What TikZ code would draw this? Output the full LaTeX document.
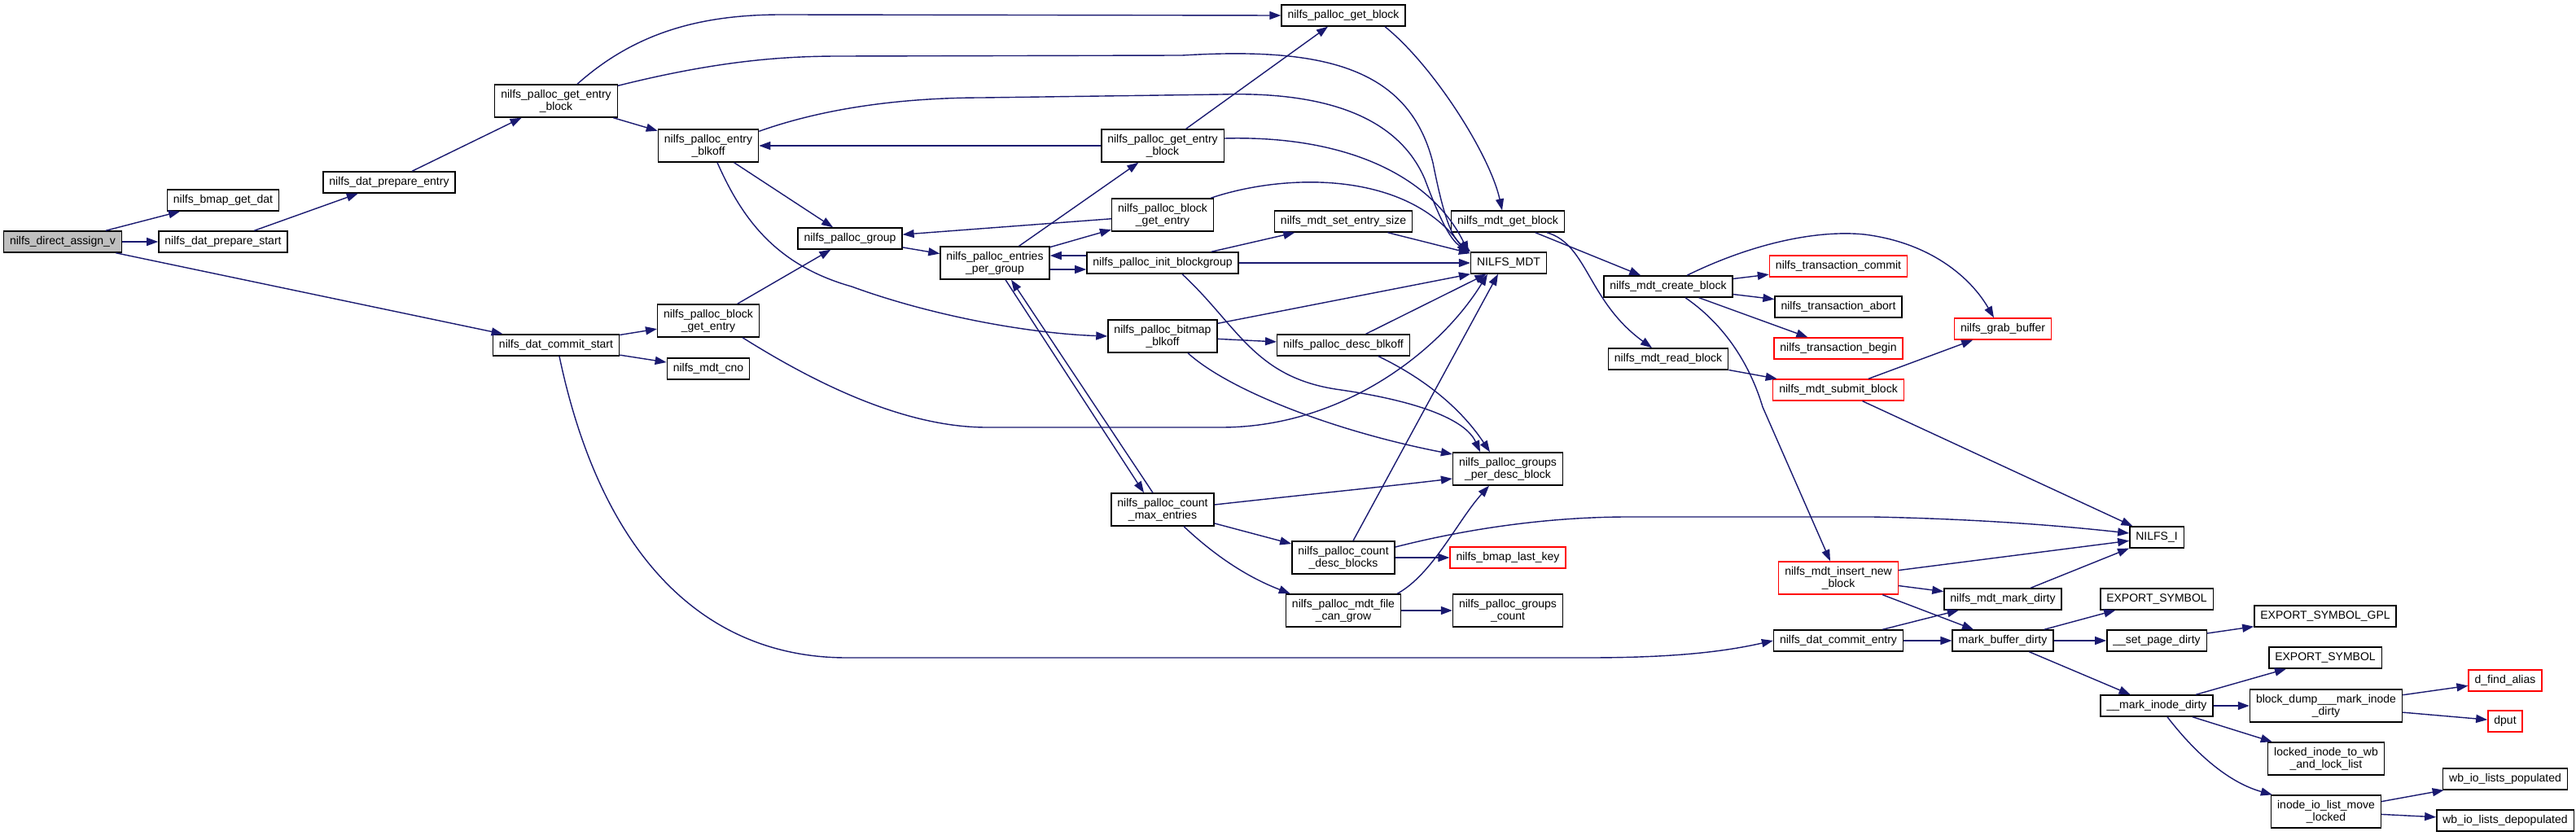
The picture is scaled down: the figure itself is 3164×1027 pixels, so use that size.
\documentclass[tikz,border=0pt]{standalone}
\usepackage{fontspec}
\setmainfont{Liberation Sans}
\usetikzlibrary{arrows.meta}
\definecolor{callblue}{HTML}{191970}
\definecolor{rootgray}{HTML}{BFBFBF}

\begin{document}
\begin{tikzpicture}[x=1pt,y=-1pt,
            fn/.style={draw=black,line width=1.4pt,fill=white,inner xsep=7.5pt,inner ysep=2pt,
              minimum height=26pt,align=center,font=\fontsize{14}{15}\selectfont},
            tall/.style={minimum height=40pt},
            hot/.style={draw=red},
            rootfn/.style={fill=rootgray},
            call/.style={draw=callblue,line width=1.4pt,-{Triangle[length=14pt,width=10pt]}}]
            \useasboundingbox (0,0) rectangle (3164,1027);
            \fill[white] (0,0) rectangle (3164,1027);

            \node[fn,rootfn] (assign) at (77,297) {nilfs\_direct\_assign\_v};
            \node[fn] (bmapdat) at (274,246) {nilfs\_bmap\_get\_dat};
            \node[fn] (prepstart) at (274,297) {nilfs\_dat\_prepare\_start};
            \node[fn] (prepentry) at (478,224) {nilfs\_dat\_prepare\_entry};
            \node[fn,tall] (getentry) at (683,124) {nilfs\_palloc\_get\_entry\\\_block};
            \node[fn] (commitstart) at (683,424) {nilfs\_dat\_commit\_start};
            \node[fn,tall] (blkoff) at (870,179) {nilfs\_palloc\_entry\\\_blkoff};
            \node[fn,tall] (blockentry) at (870,394) {nilfs\_palloc\_block\\\_get\_entry};
            \node[fn] (mdtcno) at (870,453) {nilfs\_mdt\_cno};
            \node[fn] (group) at (1044,293) {nilfs\_palloc\_group};
            \node[fn,tall] (perg) at (1222,323) {nilfs\_palloc\_entries\\\_per\_group};
            \node[fn,tall] (getentryb) at (1428,179) {nilfs\_palloc\_get\_entry\\\_block};
            \node[fn,tall] (blockentryb) at (1428,264) {nilfs\_palloc\_block\\\_get\_entry};
            \node[fn] (initbg) at (1428,323) {nilfs\_palloc\_init\_blockgroup};
            \node[fn,tall] (bitmap) at (1428,413) {nilfs\_palloc\_bitmap\\\_blkoff};
            \node[fn,tall] (countmax) at (1428,626) {nilfs\_palloc\_count\\\_max\_entries};
            \node[fn] (getblock) at (1650,19) {nilfs\_palloc\_get\_block};
            \node[fn] (setsize) at (1650,272) {nilfs\_mdt\_set\_entry\_size};
            \node[fn] (descblkoff) at (1650,424) {nilfs\_palloc\_desc\_blkoff};
            \node[fn,tall] (countdesc) at (1650,685) {nilfs\_palloc\_count\\\_desc\_blocks};
            \node[fn,tall] (cangrow) at (1650,750) {nilfs\_palloc\_mdt\_file\\\_can\_grow};
            \node[fn] (mdt) at (1853,323) {NILFS\_MDT};
            \node[fn] (mdtget) at (1852,272) {nilfs\_mdt\_get\_block};
            \node[fn,tall] (perdesc) at (1852,576) {nilfs\_palloc\_groups\\\_per\_desc\_block};
            \node[fn,hot] (lastkey) at (1852,685) {nilfs\_bmap\_last\_key};
            \node[fn,tall] (gcount) at (1852,750) {nilfs\_palloc\_groups\\\_count};
            \node[fn] (create) at (2049,352) {nilfs\_mdt\_create\_block};
            \node[fn] (readblk) at (2049,441) {nilfs\_mdt\_read\_block};
            \node[fn,hot] (tcommit) at (2258,327) {nilfs\_transaction\_commit};
            \node[fn] (tabort) at (2258,377) {nilfs\_transaction\_abort};
            \node[fn,hot] (tbegin) at (2258,428) {nilfs\_transaction\_begin};
            \node[fn,hot] (submit) at (2258,479) {nilfs\_mdt\_submit\_block};
            \node[fn,tall,hot] (insert) at (2258,710) {nilfs\_mdt\_insert\_new\\\_block};
            \node[fn] (commitentry) at (2258,787) {nilfs\_dat\_commit\_entry};
            \node[fn,hot] (grab) at (2460,404) {nilfs\_grab\_buffer};
            \node[fn] (markdirty) at (2460,736) {nilfs\_mdt\_mark\_dirty};
            \node[fn] (mbdirty) at (2460,787) {mark\_buffer\_dirty};
            \node[fn] (nilfsi) at (2649,660) {NILFS\_I};
            \node[fn] (export) at (2649,736) {EXPORT\_SYMBOL};
            \node[fn] (setpage) at (2649,787) {\_\_set\_page\_dirty};
            \node[fn] (markinode) at (2649,867) {\_\_mark\_inode\_dirty};
            \node[fn] (gpl) at (2856,757) {EXPORT\_SYMBOL\_GPL};
            \node[fn] (exportb) at (2856,808) {EXPORT\_SYMBOL};
            \node[fn,tall] (bdump) at (2857,867) {block\_dump\_\_\_mark\_inode\\\_dirty};
            \node[fn,tall] (locked) at (2857,932) {locked\_inode\_to\_wb\\\_and\_lock\_list};
            \node[fn,tall] (iolist) at (2857,997) {inode\_io\_list\_move\\\_locked};
            \node[fn,hot] (dfind) at (3077,836) {d\_find\_alias};
            \node[fn,hot] (dput) at (3077,886) {dput};
            \node[fn] (wbpop) at (3077,957) {wb\_io\_lists\_populated};
            \node[fn] (wbdepop) at (3077,1008) {wb\_io\_lists\_depopulated};

            \draw[call] (assign) -- (bmapdat);
            \draw[call] (assign) -- (prepstart);
            \draw[call] (assign) -- (commitstart);
            \draw[call] (prepstart) -- (prepentry);
            \draw[call] (prepentry) -- (getentry);
            \draw[call] ([xshift=26pt]getentry.north) .. controls (780,40) and (860,18) .. (960,18) -- (getblock.west);
            \draw[call] ([yshift=-2pt]getentry.north east) .. controls (880,75) and (960,69) .. (1031,69) -- (1452,68) .. controls (1620,58) and (1730,80) .. (1760,200) .. controls (1770,250) and (1780,290) .. ([yshift=1pt]mdt.north west);
            \draw[call] (getentry) -- (blkoff);
            \draw[call] ([yshift=-3pt]blkoff.north east) .. controls (1020,130) and (1120,120) .. (1207,120) -- (1500,116) .. controls (1640,112) and (1720,150) .. (1750,220) .. controls (1765,260) and (1780,295) .. (mdt.north west);
            \draw[call] (blkoff) -- (group);
            \draw[call] ([xshift=11pt]blkoff.south) .. controls (910,265) and (950,325) .. (1046,352) .. controls (1150,390) and (1270,410) .. (bitmap.west);
            \draw[call] (getentryb) -- (blkoff);
            \draw[call] (getentryb) -- (getblock);
            \draw[call] ([yshift=9pt]getentryb.east) .. controls (1660,166) and (1760,220) .. ([xshift=-2pt,yshift=-1pt]mdt.north west);
            \draw[call] ([xshift=-4pt]blockentryb.north east) .. controls (1580,212) and (1730,210) .. ([xshift=-4pt,yshift=-3pt]mdt.north west);
            \draw[call] (blockentryb) -- (group);
            \draw[call] (group) -- (perg);
            \draw[call] (perg) -- (getentryb);
            \draw[call] (perg) -- (blockentryb);
            \draw[call] ([yshift=9pt]initbg.west) -- ([yshift=9pt]perg.east);
            \draw[call] ([yshift=-8pt]perg.east) -- ([yshift=-8pt]initbg.west);
            \draw[call] (initbg) -- (setsize);
            \draw[call] (setsize) -- (mdt);
            \draw[call] (initbg) -- (mdt);
            \draw[call] ([xshift=24pt]initbg.south) .. controls (1520,400) and (1540,462) .. (1640,478) .. controls (1740,492) and (1800,515) .. ([xshift=-34pt]perdesc.north);
            \draw[call] ([xshift=31pt]bitmap.south) .. controls (1510,480) and (1640,530) .. ([yshift=18pt]perdesc.west);
            \draw[call] (bitmap) -- (descblkoff);
            \draw[call] ([yshift=-5pt]bitmap.north east) -- (mdt.south west);
            \draw[call] (descblkoff) -- (mdt);
            \draw[call] ([xshift=43pt]descblkoff.south) .. controls (1760,470) and (1800,510) .. ([xshift=-22pt]perdesc.north);
            \draw[call] (blockentry) -- (group);
            \draw[call] ([xshift=42pt]blockentry.south) .. controls (1000,470) and (1110,525) .. (1212,525) -- (1500,525) .. controls (1650,525) and (1770,430) .. ([xshift=-26pt]mdt.south);
            \draw[call] (commitstart) -- (blockentry);
            \draw[call] (commitstart) -- (mdtcno);
            \draw[call] ([xshift=4pt]commitstart.south) .. controls (740,690) and (870,808) .. (1040,808) -- (1950,808) .. controls (2060,808) and (2120,800) .. (commitentry.west);
            \draw[call] ([xshift=13pt]perg.south) -- ([xshift=-23pt]countmax.north);
            \draw[call] ([xshift=-12pt]countmax.north) -- ([xshift=20pt]perg.south);
            \draw[call] ([yshift=6pt]countmax.east) .. controls (1600,608) and (1700,598) .. ([yshift=-12pt]perdesc.west);
            \draw[call] (countmax) -- (countdesc);
            \draw[call] ([xshift=26pt]countmax.south) .. controls (1500,690) and (1540,712) .. ([xshift=6pt]cangrow.north west);
            \draw[call] ([xshift=12pt]countdesc.north) -- ([xshift=-13pt]mdt.south);
            \draw[call] (countdesc) -- (lastkey);
            \draw[call] ([yshift=13pt]countdesc.east) .. controls (1800,650) and (1900,635) .. (2000,635) -- (2300,635) .. controls (2450,638) and (2550,648) .. ([yshift=5pt]nilfsi.west);
            \draw[call] ([xshift=-5pt]cangrow.north east) .. controls (1760,705) and (1790,640) .. ([xshift=-23pt]perdesc.south);
            \draw[call] (cangrow) -- (gcount);

            \draw[call] ([xshift=51pt]getblock.south) .. controls (1760,80) and (1830,190) .. ([xshift=-7pt]mdtget.north);
            \draw[call] (mdtget) -- (create);
            \draw[call] ([xshift=48pt]mdtget.south) .. controls (1950,300) and (1950,370) .. ([xshift=-20pt]readblk.north);
            \draw[call] (create) -- (tcommit);
            \draw[call] (create) -- (tabort);
            \draw[call] (create) -- (tbegin);
            \draw[call] ([xshift=23pt]create.north) .. controls (2150,300) and (2230,282) .. (2290,288) .. controls (2370,298) and (2420,340) .. ([xshift=-11pt]grab.north);
            \draw[call] ([xshift=21pt]create.south) .. controls (2120,400) and (2150,450) .. (2165,500) -- ([xshift=-10pt]insert.north);
            \draw[call] (readblk) -- (submit);
            \draw[call] (submit) -- (grab);
            \draw[call] (submit) -- (nilfsi);
            \draw[call] (insert) -- (nilfsi);
            \draw[call] (insert) -- (markdirty);
            \draw[call] (insert) -- (mbdirty);
            \draw[call] (commitentry) -- (markdirty);
            \draw[call] (commitentry) -- (mbdirty);
            \draw[call] (markdirty) -- (nilfsi);
            \draw[call] (mbdirty) -- (export);
            \draw[call] (mbdirty) -- (setpage);
            \draw[call] (mbdirty) -- (markinode);
            \draw[call] (setpage) -- (gpl);
            \draw[call] (markinode) -- (exportb);
            \draw[call] (markinode) -- (bdump);
            \draw[call] (markinode) -- (locked);
            \draw[call] ([xshift=13pt]markinode.south) .. controls (2700,930) and (2740,962) .. ([xshift=2pt]iolist.north west);
            \draw[call] (bdump) -- (dfind);
            \draw[call] (bdump) -- (dput);
            \draw[call] (iolist) -- (wbpop);
            \draw[call] (iolist) -- (wbdepop);
        \end{tikzpicture}
\end{document}
